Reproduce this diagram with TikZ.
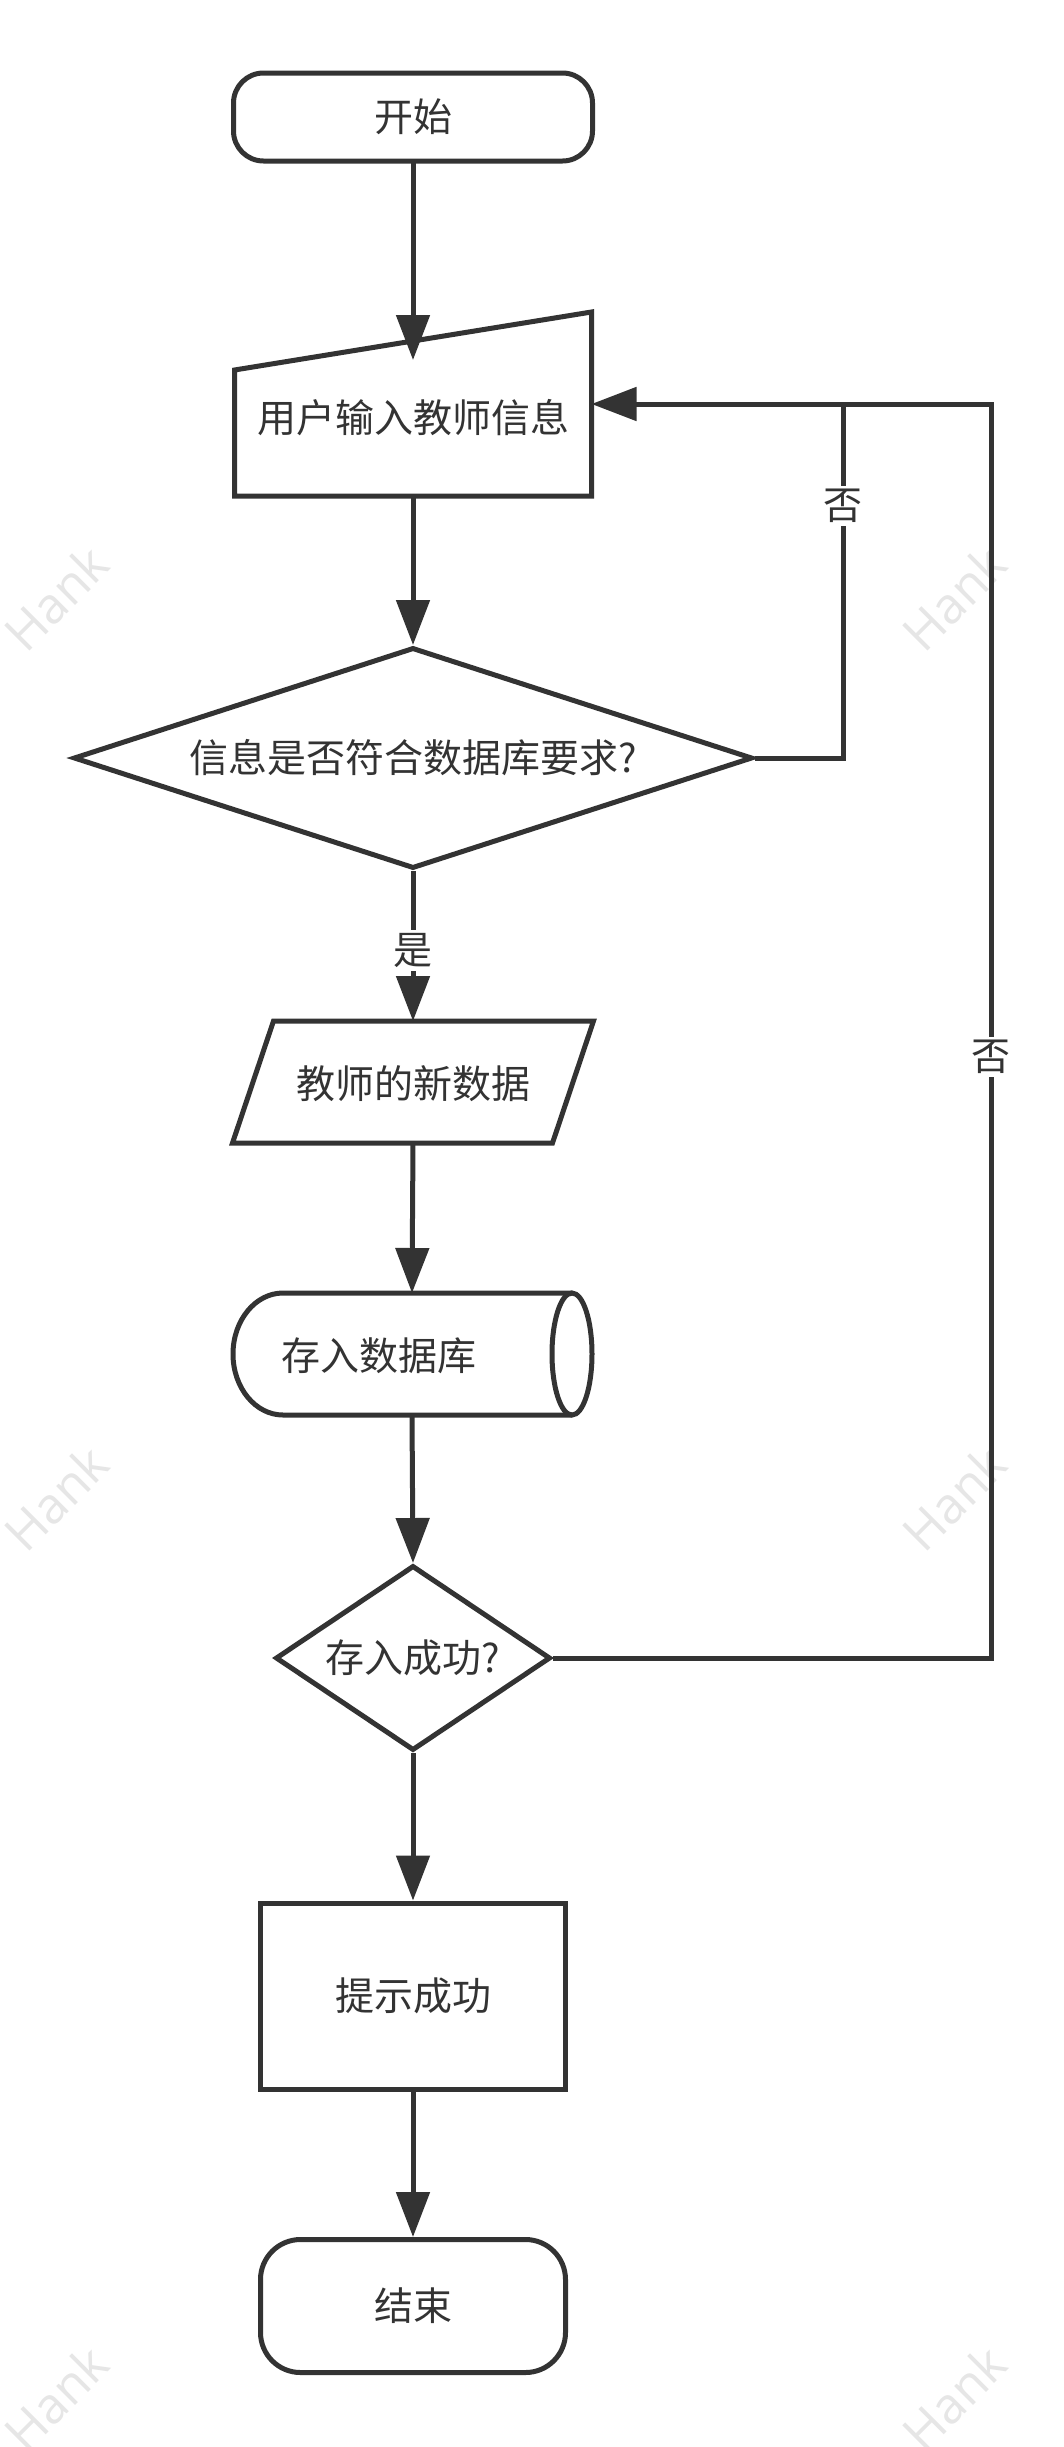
\documentclass[tikz,border=0pt]{standalone}
\usepackage{fontspec}
\setmainfont{Noto Sans CJK SC}
\newfontfamily\markfont{Open Sans}
\usetikzlibrary{shapes.geometric,arrows.meta,calc}
\definecolor{ink}{HTML}{333333}
\definecolor{wmark}{HTML}{E6E6E6}

\begin{document}
\begin{tikzpicture}[x=1pt,y=-1pt,
  every node/.style={font=\fontsize{39}{47}\selectfont, text=ink},
  outline/.style={draw=ink, line width=5pt},
  flow/.style={draw=ink, line width=5pt, -{Triangle[length=45pt,width=33pt]}},
  link/.style={draw=ink, line width=5pt},
  frame/.style={inner sep=0pt, outer sep=0pt},
  tag/.style={fill=white, inner sep=3pt},
  wm/.style={font=\markfont\fontsize{50}{60}\selectfont, text=wmark, rotate=45}
]
% page and background
\fill[white] (0,0) rectangle (1063,2447);
\useasboundingbox (0,0) rectangle (1063,2447);

% faint watermarks
\foreach \wy [count=\i] in {598,1498,2398} {
  \node[wm] (wmL\i) at (56,\wy) {Hank};
  \node[wm] (wmR\i) at (954,\wy) {Hank};
}

% start terminator
\node[outline, frame, rounded corners=30pt, minimum width=359pt, minimum height=88pt] (start) at (413,117) {开始};

% manual input
\node[frame, minimum width=357pt, minimum height=184pt] (input) at (413,404) {};
\draw[outline] (input.south west) -- (input.south east) -- (input.north east)
  -- ($(input.north west)+(0,58)$) -- cycle;
\node (inputtext) at (413,418) {用户输入教师信息};
\coordinate (inTop) at (413,360);

% validity check
\node[outline, diamond, aspect=3.07, minimum width=679pt, minimum height=221pt, inner sep=0pt] (check) at (413,758) {信息是否符合数据库要求?};

% new data (parallelogram)
\node[frame, minimum width=361pt, minimum height=122pt] (newdata) at (413,1082) {};
\draw[outline] ($(newdata.north west)+(41,0)$) -- (newdata.north east)
  -- ($(newdata.south east)+(-41,0)$) -- (newdata.south west) -- cycle;
\node (newdatatext) at (413,1084) {教师的新数据};

% database store (horizontal drum)
\node[frame, minimum width=359pt, minimum height=122pt] (store) at (412,1354) {};
\draw[outline] (572,1293) -- (283,1293)
  arc[start angle=90, end angle=270, x radius=50pt, y radius=61pt] -- (572,1415);
\draw[outline] (572,1354) ellipse [x radius=20pt, y radius=61pt];
\node (storetext) at (379,1356) {存入数据库};

% save check
\node[outline, diamond, aspect=1.49, minimum width=275pt, minimum height=185pt, inner sep=0pt] (saved) at (413,1658) {存入成功?};

% success notice
\node[outline, minimum width=305pt, minimum height=186pt] (notice) at (413,1996) {提示成功};

% end terminator
\node[outline, rounded corners=40pt, minimum width=305pt, minimum height=133pt] (finish) at (413,2306) {结束};

% main flow
\draw[flow] (start) -- (inTop);
\draw[flow] (input.south) -- (check.north);
\draw[flow] (check.south) -- node[tag, pos=0.53] (yes) {是} (newdata.north);
\draw[flow] (newdata.south) -- (store.north);
\draw[flow] (store.south) -- (saved.north);
\draw[flow] (saved.south) -- (notice.north);
\draw[flow] (notice.south) -- (finish.north);

% return loops
\coordinate (joinL) at (843,404);
\coordinate (cornerR) at (991,404);
\draw[link] (check.east) -| (joinL);
\node[tag] (no1) at (843,506) {否};
\draw[flow] (saved.east) -| (cornerR) -- (input.east);
\node[tag] (no2) at (991,1057) {否};
\end{tikzpicture}
\end{document}
